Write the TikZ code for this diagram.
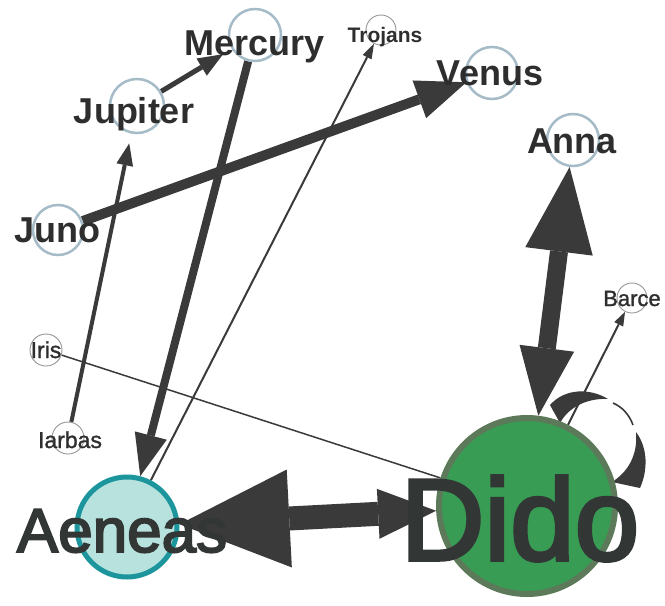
\documentclass[tikz,border=0pt]{standalone}
\usepackage{fontspec}
\setmainfont{Liberation Sans}
\newfontfamily\heavysans[FakeBold=3]{Liberation Sans}
\newfontfamily\firmsans[FakeBold=1.2]{Liberation Sans}
\usetikzlibrary{arrows.meta}

\definecolor{edgecol}{RGB}{58,58,58}
\definecolor{txtcol}{RGB}{46,46,46}
\definecolor{bigtxt}{RGB}{50,54,52}
\definecolor{ringcol}{RGB}{165,188,200}
\definecolor{minorring}{RGB}{150,150,150}
\definecolor{aenfill}{RGB}{184,226,222}
\definecolor{aenring}{RGB}{28,150,156}
\definecolor{didfill}{RGB}{56,156,84}
\definecolor{didring}{RGB}{92,122,90}

\pgfdeclarelayer{paper}
\pgfdeclarelayer{links}
\pgfsetlayers{paper,links,main}

\begin{document}
\begin{tikzpicture}[x=1pt,y=-1pt,
  vtx/.style={circle, draw=ringcol, line width=2.5pt, fill=white, inner sep=0pt},
  minorvtx/.style={circle, draw=minorring, line width=0.9pt, fill=white, inner sep=0pt},
  lab/.style={anchor=base, inner sep=0pt, text=txtcol},
  midlab/.style={lab, font=\bfseries\fontsize{36}{40}\selectfont},
  smalllab/.style={lab, font=\firmsans\fontsize{23}{26}\selectfont},
  biglab/.style={lab, text=bigtxt},
  link/.style={draw=edgecol, line cap=butt},
]
\useasboundingbox (0,0) rectangle (665,606);
\begin{pgfonlayer}{paper}
  \fill[white] (0,0) rectangle (665,606);
\end{pgfonlayer}

% characters
\node[vtx, minimum size=52pt] (mercury) at (255,35) {};
\node[vtx, minimum size=54pt] (jupiter) at (137,106) {};
\node[vtx, minimum size=50pt] (juno) at (58,230) {};
\node[vtx, minimum size=52pt] (venus) at (492,73) {};
\node[vtx, minimum size=52pt] (anna) at (573,140) {};
\node[minorvtx, minimum size=30pt] (trojans) at (381,30) {};
\node[minorvtx, minimum size=32pt] (iris) at (46,350) {};
\node[minorvtx, minimum size=32pt] (iarbas) at (68,438) {};
\node[minorvtx, minimum size=30pt] (barce) at (632,298) {};
\node[circle, fill=aenfill, draw=aenring, line width=5pt, minimum size=100pt, inner sep=0pt] (aeneas) at (127,527) {};
\node[circle, fill=didfill, draw=didring, line width=6pt, minimum size=176pt, inner sep=0pt] (dido) at (527,506) {};

% relations
\begin{pgfonlayer}{links}
  \draw[link, line width=5pt, shorten >=10pt, -{Triangle[length=25pt,width=20pt,line width=0pt]}] (jupiter) -- (mercury);
  \draw[link, line width=8pt, -{Triangle[length=42pt,width=33pt,line width=0pt]}] (mercury) -- (aeneas);
  \draw[link, line width=10pt, -{Triangle[length=50pt,width=40pt,line width=0pt]}] (juno) -- (venus);
  \draw[link, line width=4pt, shorten >=10pt, -{Triangle[length=22pt,width=17pt,line width=0pt]}] (iarbas) -- (jupiter);
  \draw[link, line width=2pt, -{Triangle[length=15pt,width=10pt,line width=0pt]}] (aeneas) -- (trojans);
  \draw[link, line width=1.5pt] (iris) -- (dido);
  \draw[link, line width=2pt, -{Triangle[length=14pt,width=10pt,line width=0pt]}] (dido) -- (barce);
  \draw[link, line width=18pt, {Triangle[length=85pt,width=68pt,line width=0pt]}-{Triangle[length=68pt,width=55pt,line width=0pt]}] (anna) -- (dido);
  \draw[link, line width=24pt, {Triangle[length=110pt,width=98pt,line width=0pt]}-{Triangle[length=58pt,width=50pt,line width=0pt]}] (aeneas) -- (dido);
  % Dido's self-loop
  \begin{scope}[shift={(dido.center)}]
    \fill[edgecol] (23,-101) .. controls (38,-118) and (63,-118) .. (81,-107)
      .. controls (63,-108) and (43,-101) .. (33,-83) -- cycle;
    \draw[edgecol, line width=1.6pt] (86,-103) .. controls (95,-99) and (102,-92) .. (106,-81);
    \fill[edgecol] (109,-74) .. controls (121,-58) and (121,-36) .. (113,-18)
      -- (85,-24) .. controls (101,-34) and (111,-51) .. (109,-74) -- cycle;
  \end{scope}
\end{pgfonlayer}

% names
\node[midlab] (mercury-l) at (255,55) {Mercury};
\node[midlab] (jupiter-l) at (134,123) {Jupiter};
\node[midlab] (juno-l) at (57,242) {Juno};
\node[midlab] (venus-l) at (490,85) {Venus};
\node[midlab] (anna-l) at (572,153) {Anna};
\node[lab, font=\bfseries\fontsize{21}{24}\selectfont] (trojans-l) at (385,42) {Trojans};
\node[smalllab] (iris-l) at (46,358) {Iris};
\node[smalllab] (iarbas-l) at (70,448) {Iarbas};
\node[lab, font=\firmsans\fontsize{22}{25}\selectfont] (barce-l) at (632,306) {Barce};
\node[biglab, font=\heavysans\fontsize{62}{70}\selectfont] (aeneas-l) at (122,552) {Aeneas};
\node[biglab, font=\heavysans\fontsize{116}{130}\selectfont] (dido-l) at (520,560) {Dido};
\end{tikzpicture}
\end{document}
